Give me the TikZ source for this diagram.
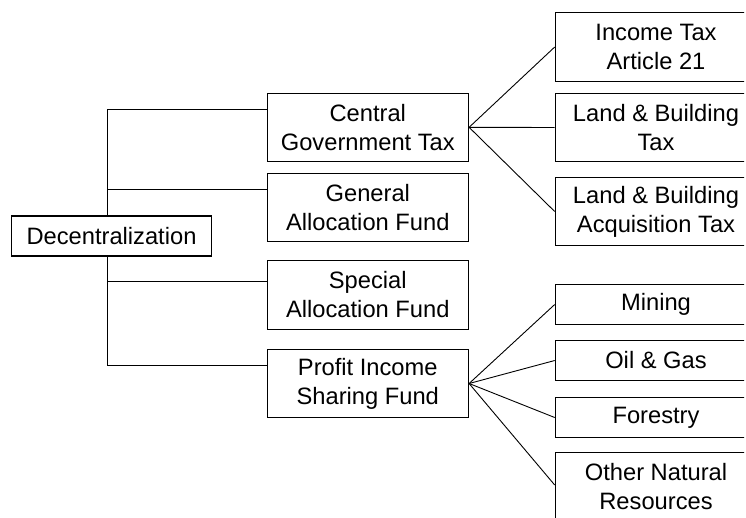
\documentclass[tikz,border=0pt]{standalone}
\usepackage{fontspec}
\setmainfont{Liberation Sans}
\begin{document}
\begin{tikzpicture}[x=1pt,y=-1pt,
  box/.style={draw=black, line width=1.1pt, fill=white, inner sep=0pt, align=center,
    minimum width=201.5pt, font=\fontsize{23.7}{29}\selectfont},
  tall/.style={box, minimum height=68.5pt},
  short/.style={box, minimum height=39.5pt},
  conn/.style={draw=black, line width=0.9pt}]
\useasboundingbox (0,0) rectangle (746,517);
\clip (0,0) rectangle (744,517);
\fill[white] (0,0) rectangle (746,517);
% nodes
\node[box, minimum width=199.5pt, minimum height=40pt] (dec) at (111.5,236) {Decentralization};
\node[tall] (cgt) at (367.8,127.3) {Central\\Government Tax};
\node[tall] (gaf) at (367.8,207.5) {General\\Allocation Fund};
\node[tall] (saf) at (367.8,295) {Special\\Allocation Fund};
\node[tall] (pis) at (367.8,383.5) {Profit Income\\Sharing Fund};
\node[tall] (it) at (656,47) {Income Tax\\Article 21};
\node[tall] (lbt) at (656,127.5) {Land \& Building\\Tax};
\node[tall] (lbat) at (656,211.5) {Land \& Building\\Acquisition Tax};
\node[short] (min) at (656,304.5) {Mining};
\node[short] (oil) at (656,360.5) {Oil \& Gas};
\node[short] (for) at (656,417.5) {Forestry};
\node[tall] (onr) at (656,487) {Other Natural\\Resources};
\coordinate (trunk) at (107.3,0);
% tree connectors
\draw[conn] ([yshift=18.3pt]cgt.west) -| ([xshift=-4.2pt]dec.north);
\draw[conn] ([yshift=18.3pt]pis.west) -| ([xshift=-4.2pt]dec.south);
\draw[conn] ([yshift=18.5pt]gaf.west) -- ([yshift=18.5pt]gaf.west -| trunk);
\draw[conn] ([yshift=14pt]saf.west) -- ([yshift=14pt]saf.west -| trunk);
% fan connectors
\draw[conn] (cgt.east) -- (it.west);
\draw[conn] (cgt.east) -- (lbt.west);
\draw[conn] (cgt.east) -- (lbat.west);
\draw[conn] (pis.east) -- (min.west);
\draw[conn] (pis.east) -- (oil.west);
\draw[conn] (pis.east) -- (for.west);
\draw[conn] (pis.east) -- ([yshift=2pt]onr.west);
\end{tikzpicture}
\end{document}
